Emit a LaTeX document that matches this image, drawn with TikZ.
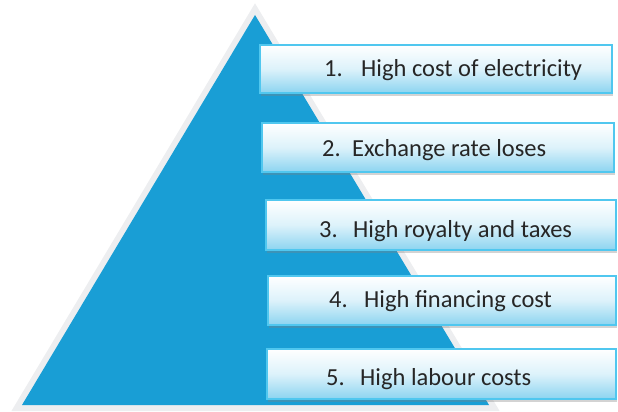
\documentclass[tikz,border=0pt]{standalone}
\usepackage{fontspec}
\setmainfont{Carlito}
\usetikzlibrary{shadows}
\definecolor{pyramidblue}{HTML}{199ED5}
\definecolor{rimgray}{HTML}{EDEEF0}
\definecolor{boxblue}{HTML}{8CD4F0}
\definecolor{boxline}{HTML}{50C7EF}
\definecolor{textgray}{HTML}{262626}

\begin{document}
\begin{tikzpicture}[x=1pt,y=-1pt,
  costbox/.style={draw=boxline,line width=1.5pt,top color=white,bottom color=boxblue,
    middle color=boxblue!30,inner sep=0pt,
    drop shadow={shadow xshift=1pt,shadow yshift=-3pt,opacity=0.35}},
  costtext/.style={anchor=base west,inner sep=0pt,text=textgray,
    font=\fontsize{24.5}{29}\selectfont}]
  \useasboundingbox (0,0) rectangle (618,412);
  % pyramid with its pale rim
  \filldraw[rimgray,line width=12pt,miter limit=10] (255,15) -- (489,405) -- (22,405) -- cycle;
  \fill[pyramidblue] (255,15) -- (489,405) -- (22,405) -- cycle;
  % boxes: left/right, top/bottom, baseline, number x, text x
  \foreach \i/\xl/\xr/\yt/\yb/\base/\xn/\xt/\txt in {
      1/260/612/45/93/77/324/361/High cost of electricity,
      2/262/614/123/172/156/322/352/Exchange rate loses,
      3/266/616/200/250/237/319/353/High royalty and taxes,
      4/268/616/276/325/307/329/364/High financing cost,
      5/267/616/349/399/385/326/360/High labour costs}{
    \node[costbox,minimum width={(\xr-\xl)*1pt},minimum height={(\yb-\yt)*1pt}]
      (box\i) at ({(\xl+\xr)/2},{(\yt+\yb)/2}) {};
    \node[costtext] (num\i) at (\xn,\base) {\i.};
    \node[costtext] (lbl\i) at (\xt,\base) {\txt};
  }
\end{tikzpicture}
\end{document}
